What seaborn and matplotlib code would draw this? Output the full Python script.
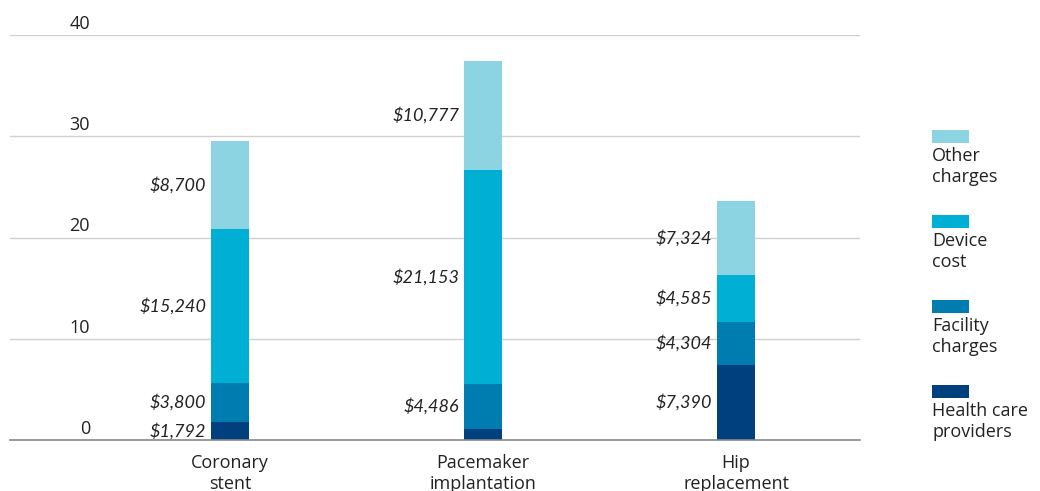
import matplotlib
matplotlib.use("Agg")
import matplotlib.pyplot as plt
import seaborn as sns
import numpy as np
import pandas as pd
from matplotlib.patches import Rectangle
import matplotlib.transforms as mtransforms

categories = ["Coronary\nstent", "Pacemaker\nimplantation", "Hip\nreplacement"]
series_names = ["Health care providers", "Facility charges", "Device cost", "Other charges"]
health_care = [1.792, 1.05, 7.390]
facility = [3.800, 4.486, 4.304]
device = [15.240, 21.153, 4.585]
other = [8.700, 10.777, 7.324]
labels_health = ["$1,792", "", "$7,390"]
labels_facility = ["$3,800", "$4,486", "$4,304"]
labels_device = ["$15,240", "$21,153", "$4,585"]
labels_other = ["$8,700", "$10,777", "$7,324"]
legend_labels = ["Other\ncharges", "Device\ncost", "Facility\ncharges", "Health care\nproviders"]
yticks = [0, 10, 20, 30, 40]

colors = {"Health care providers": "#00407f", "Facility charges": "#007db0",
          "Device cost": "#00b0d4", "Other charges": "#8dd4e3"}

sns.set_theme(style="white")
plt.rcParams['font.family'] = ['Open Sans', 'DejaVu Sans']

fig = plt.figure(figsize=(10.4, 4.91), dpi=100)
W, H = 1040, 491
ax = fig.add_axes([10 / W, 1 - 440 / H, 850 / W, 405 / H])

values = [health_care, facility, device, other]
lab = [labels_health, labels_facility, labels_device, labels_other]
bottom = np.zeros(3)
xs = np.arange(3)
for name, vals, labs in zip(series_names, values, lab):
    df = pd.DataFrame({"x": xs, "v": vals})
    sns.barplot(data=df, x="x", y="v", ax=ax, color=colors[name], width=0.15,
                bottom=bottom, native_scale=True, saturation=1, edgecolor="none",
                linewidth=0, errorbar=None)
    for i, (v, t) in enumerate(zip(vals, labs)):
        if t:
            ax.annotate(t, xy=(xs[i] - 0.075, bottom[i] + v / 2), xytext=(-3.5, 0),
                        textcoords="offset points", ha="right", va="center",
                        fontsize=13, style="italic", color="#222222",
                        family=["Lato", "DejaVu Sans"])
    bottom = bottom + np.array(vals)

ax.set_xlim(-0.87, 2.49)
ax.set_ylim(0, 40)
ax.set_yticks(yticks)
ax.set_yticklabels([])
ax.tick_params(axis="y", length=0)
ax.set_xticks(xs)
ax.set_xticklabels(categories, fontsize=13, color="#222222", linespacing=1.2)
ax.tick_params(axis="x", length=0, pad=10)
ax.set_xlabel("")
ax.set_ylabel("")
for s in ["top", "right", "left"]:
    ax.spines[s].set_visible(False)
ax.spines["bottom"].set_color("#888888")
ax.spines["bottom"].set_linewidth(1.2)
for y in yticks[1:]:
    ax.axhline(y, color="#d0d0d0", linewidth=1, zorder=0)

trans = mtransforms.blended_transform_factory(ax.transAxes, ax.transData)
for y in yticks:
    ax.annotate(str(y), xy=(80 / 850, y), xycoords=trans, xytext=(0, 1.5),
                textcoords="offset points", ha="right", va="bottom",
                fontsize=13, color="#222222")

# legend
leg_colors = [colors["Other charges"], colors["Device cost"], colors["Facility charges"],
              colors["Health care providers"]]
sq_tops = [130, 215, 300, 385]
for c, t, top in zip(leg_colors, legend_labels, sq_tops):
    fig.add_artist(Rectangle((932 / W, 1 - (top + 13) / H), 37 / W, 13 / H,
                             transform=fig.transFigure, color=c, linewidth=0))
    fig.text(932 / W, 1 - (top + 17) / H, t, ha="left", va="top", fontsize=13,
             color="#222222", linespacing=1.2)

fig.savefig("out.png", dpi=100)
